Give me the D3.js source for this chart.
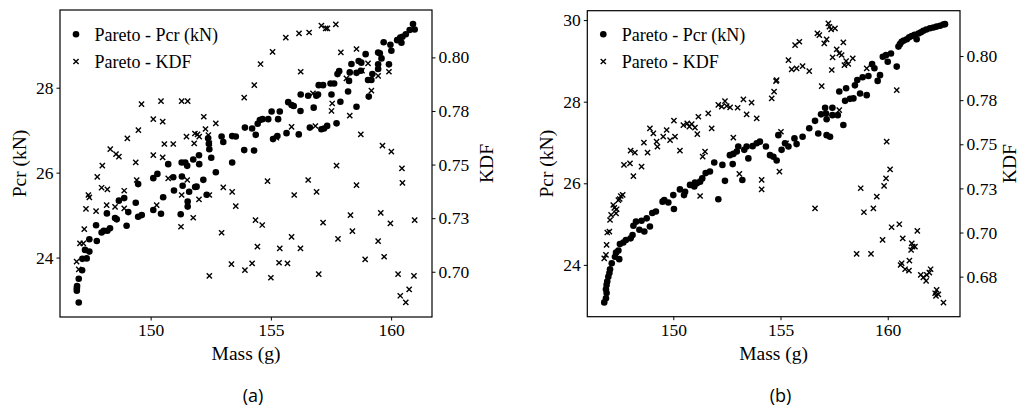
<!DOCTYPE html>
<html>
<head>
<meta charset="utf-8">
<script src="https://cdn.jsdelivr.net/npm/d3@7"></script>
<style>
  html, body { margin: 0; padding: 0; background: #ffffff; }
  svg { display: block; }
</style>
</head>
<body>
<svg id="chart" width="1019" height="408"></svg>
<script>
// ---- Pareto front, case (a): [mass (g), Pcr (kN)] ----
const pcrA = [
  [147.01,22.94],[146.93,23.22],[146.93,23.28],[146.94,23.33],[147.01,23.50],[147.15,23.70],[147.16,23.97],[147.34,23.98],
  [147.27,24.18],[147.45,24.14],[147.45,24.43],[147.76,24.39],[147.73,24.76],[147.96,24.59],[148.05,24.63],[148.20,24.63],
  [148.31,24.69],[148.18,25.04],[148.52,24.93],[148.59,24.90],[148.68,25.34],[148.90,25.40],[149.00,24.75],[149.07,25.07],
  [149.38,25.29],[149.48,24.96],[149.63,25.00],[149.48,25.73],[150.11,25.12],[150.43,25.03],[150.52,25.42],[150.97,25.58],
  [151.25,25.02],[151.54,25.32],[151.54,25.20],[151.91,25.67],[152.33,25.48],
  [150.73,26.20],[150.28,25.97],[150.11,25.87],[150.94,25.89],[151.30,25.91],[151.29,26.24],[151.44,26.24],[151.52,26.16],
  [151.77,26.31],[152.01,26.41],[152.02,26.20],[152.19,25.83],[151.85,25.66],[151.33,25.69],[151.60,25.55],[152.39,26.81],
  [152.42,26.68],[152.44,26.55],[152.52,26.35],[152.71,26.01],[152.95,26.85],[153.02,26.72],[153.39,26.86],[153.54,26.85],
  [153.39,26.24],[153.89,26.53],[154.30,26.52],[153.92,27.06],[154.22,27.04],[154.45,27.15],[154.37,26.89],
  [154.54,27.24],[154.65,27.26],[154.89,27.26],[155.03,27.44],[155.30,27.26],[155.37,27.44],[155.09,26.79],[155.27,26.86],
  [155.65,26.93],[155.72,27.66],[155.86,27.59],[155.95,27.57],[156.23,27.45],[156.16,26.90],[156.24,27.84],[156.55,27.81],
  [156.78,27.53],[156.89,27.81],[156.96,27.84],[156.99,28.06],[157.17,28.06],[156.62,27.06],[157.10,27.02],[157.21,27.04],
  [157.34,27.10],[157.48,28.10],[157.63,28.10],[157.52,27.84],[157.73,27.16],[157.77,28.32],[157.84,28.39],[157.89,27.67],
  [158.21,27.91],[158.25,28.16],[158.28,28.36],[158.35,28.56],[158.56,27.55],[158.56,28.35],[158.65,28.63],[158.76,28.59],
  [158.74,28.40],[158.94,28.79],[159.04,28.18],[159.18,28.18],[159.07,27.79],[159.22,28.32],[159.46,28.83],[159.53,28.81],
  [159.60,28.69],[159.46,28.55],[159.46,28.44],[159.91,28.55],[159.69,29.07],[159.97,29.01],[160.01,28.87],[160.25,29.12],
  [160.38,29.18],[160.47,29.20],[160.43,29.06],[160.61,29.26],[160.77,29.36],[160.98,29.37],[160.91,29.50]
];

// ---- Pareto front, case (a): [mass (g), KDF] ----
const kdfA = [
  [149.62,0.7782],[150.43,0.7796],[151.29,0.7796],[151.54,0.7796],[150.11,0.7712],[150.50,0.7700],[152.21,0.7723],[152.28,0.7666],
  [152.71,0.7692],[151.95,0.7641],[152.40,0.7638],[149.03,0.7622],[149.49,0.7661],[148.32,0.7572],[148.56,0.7549],[148.68,0.7537],
  [147.99,0.7495],[147.78,0.7443],[147.96,0.7392],[148.20,0.7384],[148.90,0.7378],[149.38,0.7510],[150.11,0.7544],[150.57,0.7596],
  [150.50,0.7534],[150.94,0.7596],[151.49,0.7630],[151.84,0.7645],[152.02,0.7630],[151.81,0.7599],[152.44,0.7599],[151.52,0.7428],
  [150.73,0.7436],[149.42,0.7428],
  [153.89,0.7812],[154.31,0.7871],[154.57,0.7969],[155.07,0.8026],[155.62,0.8092],[156.17,0.8112],[156.59,0.8116],[157.10,0.8148],
  [157.28,0.8135],[157.35,0.8135],[157.70,0.8154],[157.91,0.8023],[158.56,0.8039],[159.04,0.7972],[158.79,0.7938],[158.14,0.7902],
  [159.46,0.7914],[159.91,0.7933],[159.18,0.7845],[156.24,0.7933],[156.75,0.7832],[157.55,0.7785],[157.52,0.7750],[158.28,0.7728],
  [158.74,0.7641],[159.64,0.7588],[160.01,0.7560],[160.45,0.7482],[160.47,0.7415],[157.73,0.7495],[158.56,0.7404],[154.86,0.7423],
  [156.55,0.7428],[156.90,0.7373],[155.97,0.7358],[155.23,0.7625],[155.86,0.7676],[156.85,0.7680],
  [154.36,0.7241],[154.64,0.7218],[154.44,0.7117],[153.92,0.7008],[154.22,0.7039],[155.00,0.6972],[155.37,0.7109],[155.34,0.7042],
  [155.69,0.7039],[155.86,0.7163],[156.23,0.7109],[156.99,0.6989],[157.17,0.7229],[157.79,0.7153],[158.31,0.7264],[158.39,0.7190],
  [158.92,0.7058],[159.46,0.7143],[159.57,0.7275],[159.71,0.7070],[159.97,0.7226],[160.29,0.6989],[160.38,0.6888],[160.61,0.6857],
  [160.75,0.6918],[160.98,0.7241],[160.95,0.6981],
  [146.92,0.7047],[147.01,0.7011],[147.06,0.7132],[147.20,0.7132],[147.24,0.7199],[147.31,0.7293],[147.41,0.7358],[147.45,0.7347],
  [147.73,0.7283],[148.17,0.7311],[148.52,0.7303],[148.90,0.7296],[150.25,0.7311],[151.29,0.7358],[151.26,0.7210],[151.77,0.7252],
  [152.01,0.7338],[152.44,0.7358],[153.02,0.7394],[153.39,0.7373],[153.54,0.7306],[152.95,0.7182],[152.44,0.6981],[153.36,0.7036]
];

// ---- Pareto front, case (b): [mass (g), Pcr (kN)] ----
const pcrB = [
  [146.78,23.08],[146.86,23.18],[146.89,23.31],[146.86,23.40],[146.89,23.51],[146.92,23.59],[146.97,23.71],[147.02,23.80],
  [147.05,23.89],[147.13,24.04],[147.28,24.20],[147.33,24.30],[147.44,24.35],[147.48,24.14],[147.51,24.51],[147.67,24.55],
  [147.79,24.61],[148.01,24.65],[148.10,24.73],[148.14,24.96],[148.26,25.06],[148.42,24.86],[148.52,25.08],[148.65,24.82],
  [148.76,25.14],[148.91,24.94],[149.02,25.27],[149.19,25.31],[149.50,25.55],[149.58,25.59],[149.77,25.53],[150.00,25.71],
  [150.03,25.37],[150.31,25.85],[150.50,25.71],[150.55,25.79],[150.78,25.96],[151.01,26.02],[152.10,25.61],
  [150.98,25.92],[151.10,26.00],[151.25,26.04],[151.35,26.12],[151.51,26.25],[151.71,26.29],[151.91,26.51],[152.29,26.45],
  [152.41,26.06],[152.64,26.69],[152.77,26.47],[152.80,26.72],[152.96,26.78],[153.03,26.90],[153.22,26.08],[153.31,26.82],
  [153.42,26.90],[153.50,26.61],[153.70,26.91],[153.89,26.98],
  [154.04,27.02],[154.32,26.90],[154.51,26.69],[154.67,26.65],[154.82,26.56],[154.90,27.18],[155.05,26.82],[155.21,26.98],
  [155.37,26.90],[155.65,27.10],[155.75,26.96],[156.03,27.14],[156.34,27.35],[156.61,27.53],[156.76,27.22],[156.89,27.69],
  [157.08,27.85],[157.12,27.71],[157.15,27.57],[157.15,27.18],[157.31,27.14],[157.42,27.85],[157.42,27.67],[157.67,27.67],
  [157.74,28.25],[157.93,27.43],[158.01,28.02],[158.06,28.33],[158.24,28.07],[158.40,28.08],[158.47,28.40],[158.58,28.53],
  [158.71,28.20],[158.83,28.60],[159.02,28.16],[159.10,28.63],[159.27,28.92],[159.38,28.82],[159.53,28.51],[159.64,28.65],
  [159.77,29.10],[159.92,29.14],[160.00,28.98],[160.15,29.18],[160.42,28.86],[160.50,29.35],[160.57,29.41],[160.65,29.47],
  [160.75,29.50],[160.89,29.53],[161.00,29.58],[161.12,29.61],[161.25,29.64],[161.35,29.53],[161.43,29.67],[161.55,29.70],
  [161.66,29.74],[161.80,29.77],[161.97,29.80],[162.13,29.82],[162.28,29.84],[162.44,29.86],[162.59,29.89],[162.67,29.90]
];

// ---- Pareto front, case (b): [mass (g), KDF] ----
const kdfB = [
  [146.78,0.6854],[146.86,0.6873],[146.89,0.6930],[146.92,0.7000],[147.02,0.7005],[147.05,0.7071],[147.10,0.7100],[147.20,0.7156],
  [147.25,0.7140],[147.33,0.7109],[147.36,0.7132],[147.44,0.7184],[147.50,0.7190],[147.55,0.7207],[147.64,0.7213],[151.25,0.7207],
  [147.70,0.7383],[147.98,0.7392],[148.14,0.7320],[148.01,0.7464],[148.21,0.7453],[148.52,0.7373],[148.63,0.7509],[148.80,0.7453],
  [148.91,0.7590],[149.07,0.7562],[149.22,0.7515],[149.26,0.7486],[149.53,0.7543],[149.69,0.7581],[149.85,0.7524],[150.03,0.7634],
  [150.08,0.7543],[150.31,0.7464],[150.47,0.7609],[150.65,0.7619],[150.75,0.7600],[150.86,0.7615],[151.01,0.7594],[151.12,0.7558],
  [151.17,0.7656],[151.63,0.7675],[151.79,0.7590],[151.37,0.7430],[151.48,0.7458],[152.10,0.7723],[152.26,0.7713],[152.41,0.7745],
  [152.49,0.7717],[152.65,0.7709],[152.80,0.7538],[153.00,0.7707],[153.08,0.7332],[153.27,0.7755],[153.42,0.7670],[153.65,0.7736],
  [153.89,0.7647],
  [154.12,0.7298],[154.12,0.7245],[154.59,0.7760],[154.70,0.7798],[154.79,0.7858],[154.82,0.7864],[154.95,0.7345],[155.02,0.7571],
  [155.26,0.7505],[155.37,0.7977],[155.52,0.7924],[155.68,0.8062],[155.75,0.7930],[155.88,0.8081],[156.03,0.7943],[156.34,0.7915],
  [156.72,0.8128],[156.81,0.8119],[156.92,0.7830],[157.04,0.8072],[157.15,0.8094],[157.23,0.8185],[157.28,0.8166],[157.36,0.8151],
  [157.39,0.7921],[157.43,0.7993],[157.54,0.8157],[157.62,0.8038],[157.74,0.8015],[157.85,0.8006],[157.93,0.8077],[157.98,0.7949],
  [158.06,0.7972],[158.16,0.7955],[158.37,0.7987],[157.74,0.7694],[159.02,0.7930],[160.42,0.7807],[159.95,0.7515],[158.74,0.7251],
  [159.49,0.7203],[159.83,0.7264],[159.92,0.7307],[160.11,0.7358],
  [156.61,0.7137],[158.89,0.7115],[159.33,0.7137],[158.55,0.6879],[159.22,0.6879],[159.76,0.6958],[160.18,0.7030],[160.54,0.7047],
  [160.70,0.6967],[161.38,0.7009],[161.01,0.6841],[161.12,0.6939],[161.16,0.6920],[161.27,0.6920],[161.09,0.6901],[160.60,0.6816],
  [160.65,0.6826],[160.81,0.6792],[160.99,0.6784],[161.54,0.6760],[161.66,0.6746],[161.79,0.6726],[161.82,0.6760],[161.94,0.6773],
  [162.00,0.6792],[162.21,0.6656],[162.28,0.6675],[162.36,0.6650],[162.25,0.6641],[162.60,0.6603]
];

// ---- ticks and labels ----
const massTicks = [150, 155, 160];
const pcrTicksA = [24, 26, 28];
const kdfTicksA = [0.700, 0.725, 0.750, 0.775, 0.800];
const kdfTickLabelsA = ["0.70", "0.73", "0.75", "0.78", "0.80"];
const pcrTicksB = [24, 26, 28, 30];
const kdfTicksB = [0.675, 0.700, 0.725, 0.750, 0.775, 0.800];
const kdfTickLabelsB = ["0.68", "0.70", "0.73", "0.75", "0.78", "0.80"];
const legendLabels = ["Pareto - Pcr (kN)", "Pareto - KDF"];
const panelTags = ["(a)", "(b)"];
const xTitle = "Mass (g)";
const yLeftTitle = "Pcr (kN)";
const yRightTitle = "KDF";

// ---- layout ----
const SERIF = "Liberation Serif";
const SANS = "Open Sans";
const panels = [
  { left: 60, right: 432, top: 10, bottom: 317,
    massDomain: [146.23, 161.70], pcrDomain: [22.60, 29.83], kdfDomain: [0.6789, 0.8221],
    pcr: pcrA, kdf: kdfA, pcrTicks: pcrTicksA, kdfTicks: kdfTicksA, kdfLabels: kdfTickLabelsA,
    tag: panelTags[0], tagX: 253, leftTitleX: 26, rightTitleX: 493 },
  { left: 587.3, right: 960, top: 10.7, bottom: 316.7,
    massDomain: [145.99, 163.37], pcrDomain: [22.73, 30.23], kdfDomain: [0.6523, 0.8257],
    pcr: pcrB, kdf: kdfB, pcrTicks: pcrTicksB, kdfTicks: kdfTicksB, kdfLabels: kdfTickLabelsB,
    tag: panelTags[1], tagX: 780.5, leftTitleX: 553, rightTitleX: 1016 }
];

const svg = d3.select("#chart");
svg.append("rect").attr("width", 1019).attr("height", 408).attr("fill", "#fff");

const crossPath = s => `M${-s},${-s}L${s},${s}M${-s},${s}L${s},${-s}`;

function styleAxis(g) {
  g.attr("font-family", null).attr("font-size", null);
  g.select(".domain").remove();
  g.selectAll(".tick line").attr("stroke", "#000").attr("stroke-width", 1);
  g.selectAll(".tick text")
    .attr("fill", "#000")
    .style("font-family", SERIF)
    .style("font-size", "17.5px");
}

panels.forEach(p => {
  const x = d3.scaleLinear().domain(p.massDomain).range([p.left, p.right]);
  const yP = d3.scaleLinear().domain(p.pcrDomain).range([p.bottom, p.top]);
  const yK = d3.scaleLinear().domain(p.kdfDomain).range([p.bottom, p.top]);
  const g = svg.append("g");

  // scatter: Pcr as filled dots
  g.append("g").selectAll("circle").data(p.pcr).join("circle")
    .attr("cx", d => x(d[0])).attr("cy", d => yP(d[1]))
    .attr("r", 3.3).attr("fill", "#000");

  // scatter: KDF as crosses (secondary axis)
  g.append("g").selectAll("path").data(p.kdf).join("path")
    .attr("transform", d => `translate(${x(d[0])},${yK(d[1])})`)
    .attr("d", crossPath(2.6))
    .attr("stroke", "#000").attr("stroke-width", 1.4).attr("fill", "none");

  // axes
  g.append("g").attr("transform", `translate(0,${p.bottom})`)
    .call(d3.axisBottom(x).tickValues(massTicks).tickFormat(d3.format("d")).tickSize(3.5).tickPadding(3))
    .call(styleAxis);
  g.append("g").attr("transform", `translate(${p.left},0)`)
    .call(d3.axisLeft(yP).tickValues(p.pcrTicks).tickFormat(d3.format("d")).tickSize(3.5).tickPadding(3))
    .call(styleAxis);
  g.append("g").attr("transform", `translate(${p.right},0)`)
    .call(d3.axisRight(yK).tickValues(p.kdfTicks).tickFormat((d, i) => p.kdfLabels[i]).tickSize(3.5).tickPadding(3))
    .call(styleAxis);

  // frame
  g.append("rect")
    .attr("x", p.left).attr("y", p.top)
    .attr("width", p.right - p.left).attr("height", p.bottom - p.top)
    .attr("fill", "none").attr("stroke", "#000").attr("stroke-width", 1.2);

  const midY = (p.top + p.bottom) / 2;
  const serifText = sel => sel.style("font-family", SERIF).attr("fill", "#000");
  // axis titles
  g.append("text").attr("x", (p.left + p.right) / 2).attr("y", 360)
    .attr("text-anchor", "middle").style("font-size", "19.5px").call(serifText)
    .text(xTitle);
  g.append("text")
    .attr("transform", `translate(${p.leftTitleX},${midY}) rotate(-90)`)
    .attr("text-anchor", "middle").style("font-size", "19.5px").call(serifText)
    .text(yLeftTitle);
  g.append("text")
    .attr("transform", `translate(${p.rightTitleX},${midY}) rotate(-90)`)
    .attr("text-anchor", "middle").style("font-size", "19.5px").call(serifText)
    .text(yRightTitle);

  // legend
  const lg = g.append("g").attr("transform", `translate(${p.left + 16},0)`);
  lg.append("circle").attr("cx", 0).attr("cy", 34.3).attr("r", 3.3).attr("fill", "#000");
  lg.append("path").attr("transform", "translate(0,61.5)").attr("d", crossPath(2.6))
    .attr("stroke", "#000").attr("stroke-width", 1.4).attr("fill", "none");
  lg.append("text").attr("x", 18.5).attr("y", 40.5)
    .style("font-size", "18px").call(serifText).text(legendLabels[0]);
  lg.append("text").attr("x", 18.5).attr("y", 67.5)
    .style("font-size", "18px").call(serifText).text(legendLabels[1]);

  // panel tag
  g.append("text").attr("x", p.tagX).attr("y", 402)
    .attr("text-anchor", "middle").style("font-family", SANS)
    .style("font-size", "18px").attr("fill", "#000").text(p.tag);
});
</script>
</body>
</html>
